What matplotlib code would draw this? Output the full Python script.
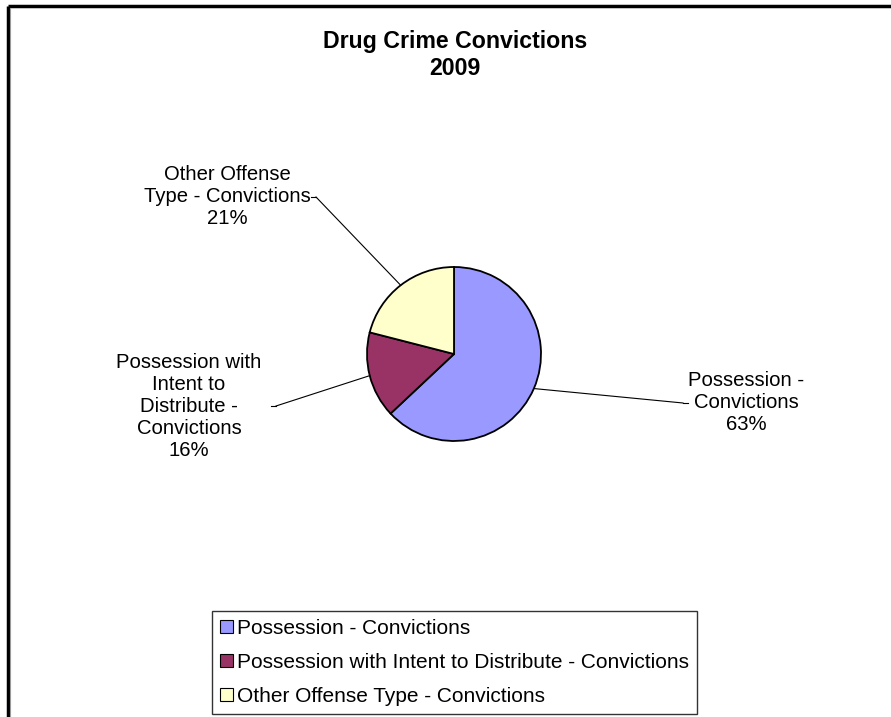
import matplotlib
matplotlib.use("Agg")
import matplotlib.pyplot as plt
from matplotlib.patches import Patch
import numpy as np

plt.rcParams['font.family'] = ['Liberation Sans', 'DejaVu Sans']

title = "Drug Crime Convictions\n2009"
categories = ["Possession - Convictions",
              "Possession with Intent to Distribute - Convictions",
              "Other Offense Type - Convictions"]
values = [63, 16, 21]
pie_labels = ["Possession -\nConvictions\n63%",
              "Possession with\nIntent to\nDistribute -\nConvictions\n16%",
              "Other Offense\nType - Convictions\n21%"]
colors = ["#9999FF", "#993366", "#FFFFCC"]

W, H = 891, 717
fig = plt.figure(figsize=(W / 100, H / 100), dpi=100)
ax = fig.add_axes([0, 0, 1, 1])

cx, cy, r = 454, H - 354, 87
wedges, _ = ax.pie(values, colors=colors, startangle=90, counterclock=False,
                   center=(cx, cy), radius=r,
                   wedgeprops=dict(edgecolor='black', linewidth=1.3))
ax.set_xlim(0, W)
ax.set_ylim(0, H)
ax.set_aspect('equal')
ax.axis('off')

# label positions (pixel layout) and leader-line end points
label_pos = [(746, H - 402), (189, H - 406), (227, H - 196)]
line_end = [(683, H - 403), (276, H - 406), (316, H - 197)]
tick_dir = [1, -1, -1]
for w, lab, (lx, ly), (ex, ey), d in zip(wedges, pie_labels, label_pos, line_end, tick_dir):
    ang = np.deg2rad((w.theta1 + w.theta2) / 2)
    px, py = cx + r * np.cos(ang), cy + r * np.sin(ang)
    ax.text(lx, ly, lab, ha='center', va='center', fontsize=14.6, color='black')
    ax.plot([px, ex], [py, ey], color='black', lw=0.8)
    ax.plot([ex, ex + 5 * d], [ey, ey], color='black', lw=0.8)

ax.text(455, H - 55, title, ha='center', va='center', fontsize=16.7,
        fontweight='bold', linespacing=1.2)

# chart border (top and left sides visible)
ax.plot([8, W], [H - 6, H - 6], color='black', lw=2.5, solid_capstyle='butt')
ax.plot([8, 8], [H - 6, 0], color='black', lw=2.5, solid_capstyle='butt')
ax.plot([10, 10], [H - 8, 0], color='#999999', lw=0.8)

handles = [Patch(facecolor=c, edgecolor='black', linewidth=0.8) for c in colors]
leg = ax.legend(handles, categories, loc='upper left',
                bbox_to_anchor=(212 / W, 1 - 611 / H), bbox_transform=fig.transFigure,
                borderaxespad=0, fontsize=15, frameon=True, fancybox=False,
                edgecolor='black', handlelength=0.62, handleheight=0.62,
                handletextpad=0.2, labelspacing=0.72, borderpad=0.38)
leg.get_frame().set_linewidth(1.0)

fig.savefig("out.png", dpi=100, facecolor='white')
